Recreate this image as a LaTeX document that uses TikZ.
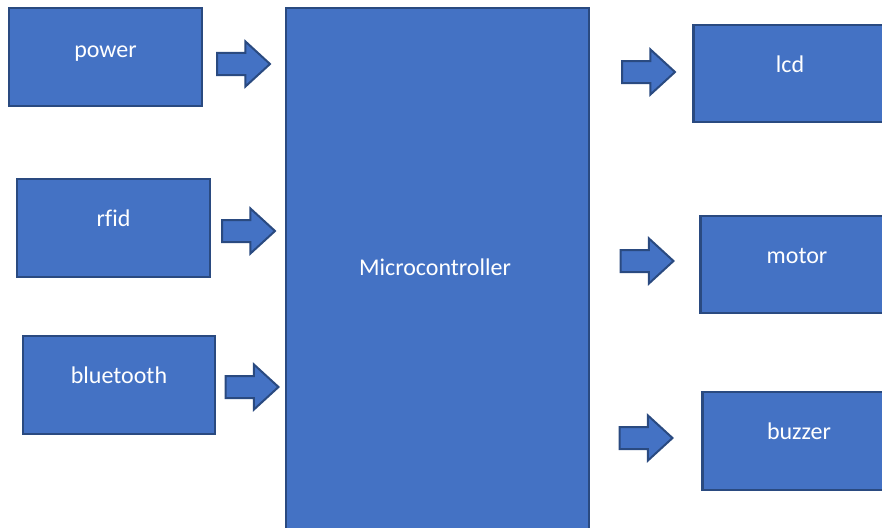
\documentclass[tikz,border=0pt]{standalone}
\usepackage{fontspec}
\setmainfont{Carlito}[Ligatures=CommonOff]
\usetikzlibrary{shapes.arrows}
\definecolor{boxblue}{HTML}{4472C4}
\definecolor{boxedge}{HTML}{2A4A80}
\tikzset{
  blk/.style={draw=boxedge, line width=2.4pt, fill=boxblue, minimum width=193pt, minimum height=98pt, inner sep=0pt},
  lbl/.style={text=white, font=\fontsize{24}{28}\selectfont, inner sep=0pt, anchor=base},
  barrow/.style={single arrow, draw=boxedge, line width=2pt, fill=boxblue, minimum width=43pt, minimum height=53pt, inner xsep=0pt, inner ysep=10pt, single arrow head extend=11.5pt, single arrow tip angle=85}
}
\begin{document}
\begin{tikzpicture}[x=1pt,y=-1pt]
\useasboundingbox (0,0) rectangle (882,527);
\begin{scope}
\clip (0,0) rectangle (882,527);
% inputs
\node[blk] (power) at (105.5,57){};
\node[lbl] (power-t) at (105.5,57){power};
\node[blk] (rfid) at (113.5,228){};
\node[lbl] (rfid-t) at (113.5,226.5){rfid};
\node[blk, minimum width=192pt] (bt) at (119,385){};
\node[lbl] (bt-t) at (119,383.5){bluetooth};
% controller
\node[blk, minimum width=303pt, minimum height=540pt] (mcu) at (437.5,278){};
\node[lbl] (mcu-t) at (435,275){Microcontroller};
% outputs
\node[blk, minimum height=97pt] (lcd) at (790,73.5){};
\node[lbl] (lcd-t) at (790,72){lcd};
\node[blk, minimum height=97pt] (motor) at (797,264.5){};
\node[lbl] (motor-t) at (797,263){motor};
\node[blk] (buzzer) at (799,441){};
\node[lbl] (buzzer-t) at (799,439.5){buzzer};
% block arrows
\node[barrow] (a1) at (237.5,64){};
\node[barrow] (a2) at (242.5,231){};
\node[barrow] (a3) at (246,387){};
\node[barrow] (a4) at (642.5,72){};
\node[barrow] (a5) at (641,261){};
\node[barrow] (a6) at (640,438){};
\end{scope}
\end{tikzpicture}
\end{document}
